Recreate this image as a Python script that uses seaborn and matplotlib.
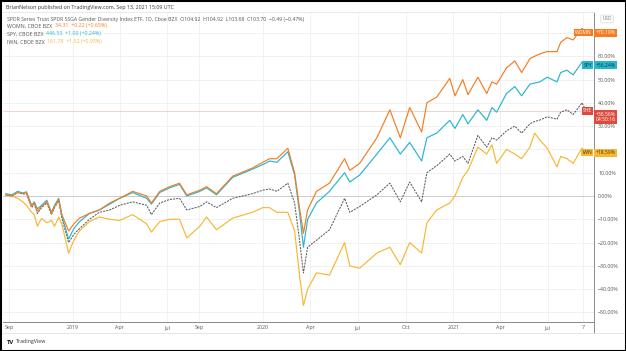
import pandas as pd
import seaborn as sns
import matplotlib.pyplot as plt
import matplotlib.transforms as mtransforms
from matplotlib.patches import Rectangle
from matplotlib.lines import Line2D

# Percent change series (TradingView compare mode)
dates = [
    "2018-08-25", "2018-09-06", "2018-09-17", "2018-09-27", "2018-10-04", "2018-10-14",
    "2018-10-19", "2018-10-25", "2018-11-02", "2018-11-12", "2018-11-21", "2018-11-27",
    "2018-12-05", "2018-12-11", "2018-12-24", "2019-01-03", "2019-01-14", "2019-02-02",
    "2019-02-21", "2019-03-13", "2019-04-01", "2019-04-26", "2019-05-23", "2019-06-01",
    "2019-06-17", "2019-07-06", "2019-07-25", "2019-08-08", "2019-09-02", "2019-09-15",
    "2019-10-04", "2019-11-04", "2019-12-12", "2020-01-01", "2020-01-14", "2020-01-28",
    "2020-02-18", "2020-03-02", "2020-03-12", "2020-03-19", "2020-03-27", "2020-04-13",
    "2020-05-08", "2020-06-06", "2020-06-16", "2020-07-05", "2020-08-07", "2020-09-01",
    "2020-09-21", "2020-10-09", "2020-11-01", "2020-11-11", "2020-11-30", "2020-12-25",
    "2021-01-04", "2021-01-19", "2021-01-29", "2021-02-17", "2021-03-06", "2021-03-16",
    "2021-03-25", "2021-04-13", "2021-04-29", "2021-05-12", "2021-05-28", "2021-06-06",
    "2021-06-16", "2021-06-30", "2021-07-19", "2021-07-26", "2021-08-07", "2021-08-19",
    "2021-09-05", "2021-09-13",
]
womn = [
    0.5, 0.0, 1.5, 1.0, 1.5, -4.5, -3.0, -6.5, -4.5, -2.5, -7.5, -4.5,
    -1.5, -8.0, -15.0, -12.0, -9.5, -7.5, -6.0, -3.0, -1.0, 2.0, 0.0, -3.0,
    2.0, 4.0, 5.5, 0.5, 2.5, 4.0, 1.0, 8.5, 12.0, 14.5, 16.0, 16.0,
    20.5, 10.0, -6.0, -16.0, -6.0, 2.0, 5.5, 16.0, 11.0, 14.0, 25.0, 37.0,
    25.0, 38.0, 27.5, 40.0, 42.5, 50.5, 43.0, 50.0, 43.5, 51.0, 44.0, 49.0,
    48.0, 55.0, 58.0, 53.0, 59.0, 60.0, 61.0, 62.0, 62.0, 66.0, 68.0, 67.0,
    72.0, 70.10,
]
spy = [
    1.0, 0.5, 2.0, 1.3, 1.8, -4.0, -2.5, -5.5, -4.0, -1.8, -7.0, -4.0,
    -1.0, -8.5, -18.5, -14.0, -11.0, -7.5, -6.0, -3.5, -1.0, 1.5, -1.0, -3.5,
    1.5, 3.5, 5.0, 0.0, 2.0, 3.5, 0.5, 8.0, 11.5, 13.5, 15.0, 14.5,
    19.0, 9.0, -8.0, -22.0, -10.0, -3.0, 2.0, 10.0, 6.0, 9.0, 18.0, 25.0,
    18.0, 23.0, 15.0, 25.0, 27.0, 32.5, 29.0, 35.0, 31.0, 37.0, 32.5, 38.0,
    36.0, 44.0, 47.0, 43.0, 48.0, 48.5, 49.0, 51.0, 49.0, 53.0, 54.0, 52.0,
    57.5, 56.24,
]
she = [
    0.5, 0.0, 1.5, 0.8, 1.0, -5.0, -3.5, -7.5, -5.0, -3.0, -8.0, -5.0,
    -2.0, -9.5, -20.0, -16.5, -14.0, -10.0, -7.0, -6.0, -4.0, -2.5, -4.0, -8.0,
    -3.0, -1.5, -1.0, -6.0, -4.5, -2.5, -5.0, -1.0, 1.0, 2.5, 3.0, 2.0,
    5.5, -3.0, -20.0, -33.0, -22.0, -19.0, -14.5, -1.0, -7.0, -4.5, 0.5, 5.5,
    -2.5, 6.0, -2.5, 10.0, 13.0, 18.0, 15.0, 17.0, 14.0, 26.0, 21.0, 25.0,
    24.0, 28.0, 30.0, 27.0, 31.0, 32.0, 32.6, 34.0, 33.0, 36.0, 37.0, 35.0,
    40.0, 36.56,
]
iwn = [
    0.5, 0.0, -1.0, -2.5, -4.0, -7.0, -8.0, -13.0, -9.6, -11.5, -10.5, -13.0,
    -9.0, -12.0, -24.5, -19.0, -15.0, -11.0, -9.0, -10.0, -10.5, -8.0, -12.0, -15.5,
    -11.0, -10.0, -10.0, -18.0, -13.0, -9.0, -14.5, -9.5, -7.0, -5.0, -5.0, -7.0,
    -7.0, -15.0, -35.0, -47.0, -40.0, -33.0, -34.0, -20.0, -30.0, -31.0, -24.5, -22.0,
    -29.5, -20.0, -24.5, -11.5, -6.0, -3.0, 0.0, 8.0, 11.0, 21.0, 18.0, 22.0,
    14.0, 20.0, 18.0, 16.0, 21.0, 27.0, 24.0, 20.6, 12.5, 17.0, 16.0, 14.0,
    20.6, 18.59,
]

tickers = ["WOMN", "SPY", "SHE", "IWN"]
last_text = ["+70.10%", "+56.24%", "+36.56%\n04:50:16", "+18.59%"]
x_ticks = ["2018-09-01", "2019-01-01", "2019-04-01", "2019-07-01", "2019-09-01",
           "2020-01-01", "2020-04-01", "2020-07-01", "2020-10-01", "2021-01-01",
           "2021-04-01", "2021-07-01", "2021-09-07"]
x_tick_labels = ["Sep", "2019", "Apr", "Jul", "Sep", "2020", "Apr", "Jul", "Oct",
                 "2021", "Apr", "Jul", "7"]
y_ticks = [-50, -40, -30, -20, -10, 0, 10, 20, 30, 40, 50, 60, 70]
# 20% and 70% labels sit behind the IWN / WOMN price boxes in the screenshot
y_hidden = [20, 70]

colors = {"WOMN": "#f57c22", "SPY": "#26b6cf", "SHE": "#5e5e5e", "IWN": "#f7b733"}
box_colors = {"WOMN": "#f57c22", "SPY": "#26b6cf", "SHE": "#dd4b3e", "IWN": "#f7b733"}
box_text = {"WOMN": "white", "SPY": "#1a3b46", "SHE": "white", "IWN": "#4a3a10"}

df = pd.DataFrame({"date": pd.to_datetime(dates), "WOMN": womn, "SPY": spy,
                   "SHE": she, "IWN": iwn})
long_df = df.melt(id_vars="date", var_name="ticker", value_name="pct")

sns.set_style("white")
plt.rcParams["font.family"] = ["Open Sans", "DejaVu Sans"]

fig = plt.figure(figsize=(6.26, 3.51), dpi=100)
ax = fig.add_axes([3 / 626, 29 / 351, 591 / 626, 310 / 351])

for tk in ["IWN", "SHE", "SPY", "WOMN"]:
    sub = long_df[long_df["ticker"] == tk]
    sns.lineplot(data=sub, x="date", y="pct", ax=ax, color=colors[tk],
                 lw=0.75 if tk == "SHE" else 0.85,
                 linestyle=(0, (2, 1)) if tk == "SHE" else "-", zorder=3)

ax.set_xlim(pd.Timestamp("2018-08-20"), pd.Timestamp("2021-09-28"))
ax.set_ylim(-54.1, 79.0)
ax.set_xlabel("")
ax.set_ylabel("")

ax.set_xticks(pd.to_datetime(x_ticks))
ax.set_xticklabels(x_tick_labels, fontsize=3.8, color="#555555")
ax.yaxis.tick_right()
ax.set_yticks(y_ticks)
ax.set_yticklabels(["" if v in y_hidden else f"{v:.2f}%".replace("-", "\u2212")
                    for v in y_ticks], fontsize=3.8, color="#555555")
ax.tick_params(axis="both", length=0)
ax.tick_params(axis="x", pad=2.5)
ax.tick_params(axis="y", pad=3)
ax.grid(True, color="#efefef", lw=0.6)
ax.axhline(0, color="#c8c8c8", lw=0.6, zorder=1)
ax.axhline(36.56, color="#f3cbc6", lw=0.6, zorder=1)

ax.spines["left"].set_visible(False)
ax.spines["right"].set_color("#8a8a8a")
ax.spines["right"].set_linewidth(0.7)
ax.spines["bottom"].set_color("#8a8a8a")
ax.spines["bottom"].set_linewidth(0.7)
ax.spines["top"].set_color("#e6e6e6")
ax.spines["top"].set_linewidth(0.6)

# extension of the right scale line and the line under the date labels
fig.add_artist(Line2D([594 / 626, 594 / 626], [18 / 351, 29 / 351],
                      transform=fig.transFigure, color="#8a8a8a", lw=0.7))
fig.add_artist(Line2D([3 / 626, 623 / 626], [18 / 351, 18 / 351],
                      transform=fig.transFigure, color="#e2e2e2", lw=0.6))

# price scale labels at the right edge
trans = mtransforms.blended_transform_factory(ax.transAxes, ax.transData)
last_vals = {"WOMN": womn[-1], "SPY": spy[-1], "SHE": she[-1], "IWN": iwn[-1]}
for tk, lab in zip(tickers, last_text):
    y = last_vals[tk]
    ax.text(0.9966, y, tk, transform=trans, ha="right", va="center", fontsize=3.6,
            color=box_text[tk], zorder=6, clip_on=False,
            bbox=dict(boxstyle="square,pad=0.25", fc=box_colors[tk], ec="none"))
    ax.text(1.0025, y - (2.6 if tk == "SHE" else 0), lab, transform=trans, ha="left",
            va="center", fontsize=3.6, color=box_text[tk], zorder=6, clip_on=False,
            linespacing=1.1,
            bbox=dict(boxstyle="square,pad=0.3", fc=box_colors[tk], ec="none"))

fig.text(607 / 626, 1 - 19 / 351, "USD", fontsize=3.4, color="#777777", ha="center",
         va="center", bbox=dict(boxstyle="round,pad=0.3", fc="white", ec="#cccccc", lw=0.4))


def colored_line(parts, x, y, size=3.8):
    renderer = fig.canvas.get_renderer()
    for txt, col in parts:
        t = fig.text(x, y, txt, fontsize=size, color=col, ha="left", va="center")
        bb = t.get_window_extent(renderer=renderer)
        x += bb.width / fig.bbox.width


gray = "#555555"
colored_line([("BrianNelson published on TradingView.com, Sep 13, 2021 15:09 UTC", "#333333")],
             6 / 626, 1 - 7 / 351)
colored_line([("SPDR Series Trust SPDR SSGA Gender Diversity Index ETF, 1D, Cboe BZX  "
               "O104.92  H104.92  L103.68  C103.70  \u22120.49 (\u22120.47%)", gray)],
             7 / 626, 1 - 19 / 351, size=3.7)
colored_line([("WOMN, CBOE BZX  ", gray), ("34.31  +0.22 (+0.65%)", colors["WOMN"])],
             7 / 626, 1 - 26 / 351)
colored_line([("SPY, CBOE BZX  ", gray), ("446.53  +1.09 (+0.24%)", colors["SPY"])],
             7 / 626, 1 - 34 / 351)
colored_line([("IWN, CBOE BZX  ", gray), ("161.78  +1.52 (+0.95%)", colors["IWN"])],
             7 / 626, 1 - 42 / 351)

# footer logo
fig.text(7 / 626, 1 - 342 / 351, "TV", fontsize=4.2, fontweight="bold", color="#131722",
         va="center")
fig.text(16 / 626, 1 - 342 / 351, "TradingView", fontsize=3.8, color="#333333", va="center")

# black frame around the screenshot
fig.add_artist(Rectangle((0, 0), 1, 1, transform=fig.transFigure, fill=False,
                         ec="black", lw=2.2))

fig.savefig("out.png", dpi=100)
